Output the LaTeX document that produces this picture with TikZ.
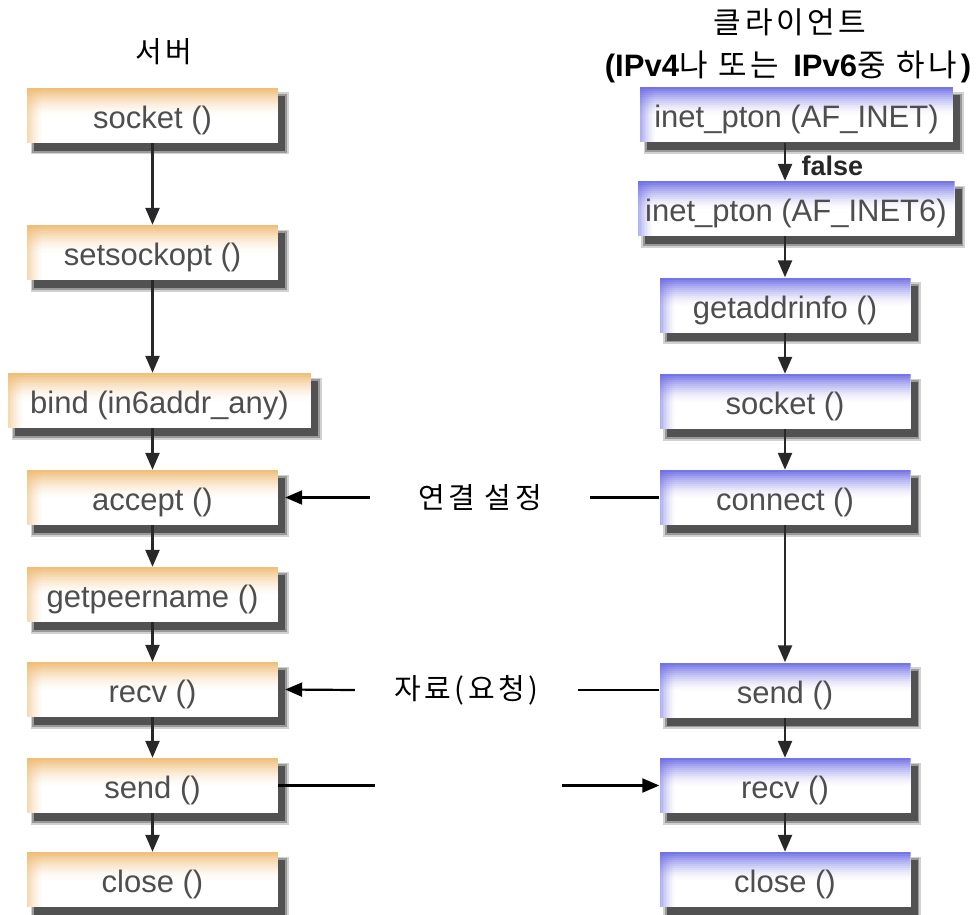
\documentclass[tikz,border=0pt]{standalone}
\usepackage{fontspec}
\setmainfont{Liberation Sans}
\newfontfamily\kr[LetterSpace=12]{Noto Sans CJK KR}
\usetikzlibrary{arrows.meta,shadows}

\definecolor{bandO}{RGB}{240,188,116}
\definecolor{bandB}{RGB}{110,110,230}
\definecolor{boxtext}{RGB}{78,78,78}
\definecolor{linegrey}{RGB}{40,40,40}

\tikzset{
  fbox/.style={
    rectangle, minimum width=251pt, minimum height=55pt, inner sep=0pt,
    text height=31pt, text depth=5pt,
    fill=white, text=boxtext, font=\fontsize{31}{31}\selectfont,
    % soft drop shadow built from stacked layers
    general shadow={fill=black!18, draw=black!18, line width=7pt,
                    shadow xshift=7pt, shadow yshift=-8pt},
    general shadow={fill=black!45, draw=black!40, line width=3.5pt,
                    shadow xshift=7pt, shadow yshift=-8pt},
    general shadow={fill=black!68, shadow xshift=7pt, shadow yshift=-8pt},
    path picture={
      % colour band fading down from the top edge
      \foreach \i in {0,...,13}{
        \pgfmathsetmacro\op{0.95*(1-\i/14)^1.6}
        \fill[#1, fill opacity=\op]
          ([yshift=-2*\i pt]path picture bounding box.north west) rectangle
          ([yshift=-2*\i pt-2pt]path picture bounding box.north east);
      }
      % lighter band fading in from the left edge
      \foreach \i in {0,...,9}{
        \pgfmathsetmacro\op{0.55*(1-\i/10)^1.4}
        \fill[#1, fill opacity=\op]
          ([xshift=1.5*\i pt]path picture bounding box.north west) rectangle
          ([xshift=1.5*\i pt+1.5pt]path picture bounding box.south west);
      }
    }},
  sbox/.style={fbox=bandO},
  cbox/.style={fbox=bandB},
  arr/.style={draw=linegrey, line width=2.4pt, -{Triangle[length=17pt,width=14pt]}},
  link/.style={draw=black, line width=2.2pt},
  linkarr/.style={draw=black, line width=2.2pt, -{Triangle[length=17pt,width=14pt]}},
  hdr/.style={font=\kr\fontsize{29}{29}\selectfont, text=black},
  gap/.style={font=\kr\fontsize{29}{29}\selectfont, text=black, inner sep=0pt, minimum height=30pt},
}

\begin{document}
\begin{tikzpicture}[x=1pt, y=-1pt]
  \fill[white] (0,0) rectangle (977,915);
  \useasboundingbox (0,0) rectangle (977,915);

  % column headings
  \node[hdr] (tsrv) at (164,52) {서버};
  \node[hdr, font=\kr\fontsize{30}{30}\selectfont] (tcli) at (790,22) {클라이언트};
  \node[font=\fontsize{31}{31}\selectfont, text=black] (tsub) at (788,67)
    {\textbf{(IPv4}{\kr 나 또는 }\textbf{IPv6}{\kr 중 하나}\textbf{)}};

  % server calls
  \node[sbox] (ssock) at (152.5,115.5) {socket ()};
  \node[sbox] (sopt) at (152.5,252.5) {setsockopt ()};
  \node[sbox, minimum width=303pt] (sbind) at (159.5,400.5) {bind (in6addr\_any)};
  \node[sbox] (sacc) at (152.5,497.5) {accept ()};
  \node[sbox] (speer) at (152.5,594.5) {getpeername ()};
  \node[sbox] (srecv) at (152.5,689.5) {recv ()};
  \node[sbox] (ssend) at (152.5,785.5) {send ()};
  \node[sbox] (sclose) at (152.5,879.5) {close ()};

  % client calls
  \node[cbox, minimum width=313pt] (cip4) at (796.5,115) {inet\_pton (AF\_INET)};
  \node[cbox, minimum width=317pt] (cip6) at (796,208.5) {inet\_pton (AF\_INET6)};
  \node[cbox] (cgai) at (785,305) {getaddrinfo ()};
  \node[cbox] (csock) at (785,401.5) {socket ()};
  \node[cbox] (cconn) at (785,497.5) {connect ()};
  \node[cbox] (csend) at (785,690) {send ()};
  \node[cbox] (crecv) at (785,785.5) {recv ()};
  \node[cbox] (cclose) at (785,879.5) {close ()};

  % server flow
  \draw[arr] (ssock.south) -- (sopt.north);
  \draw[arr] (sopt.south) -- (sbind.north -| sopt.south);
  \draw[arr] (sbind.south -| sopt.south) -- (sacc.north);
  \draw[arr] (sacc.south) -- (speer.north);
  \draw[arr] (speer.south) -- (srecv.north);
  \draw[arr] (srecv.south) -- (ssend.north);
  \draw[arr] (ssend.south) -- (sclose.north);

  % client flow
  \draw[arr] (cip4.south -| cgai.south) -- (cip6.north -| cgai.north)
    node[pos=0.62, right=12pt, font=\bfseries\fontsize{27}{27}\selectfont, text=linegrey] (lfalse) {false};
  \draw[arr] (cip6.south -| cgai.south) -- (cgai.north);
  \draw[arr] (cgai.south) -- (csock.north);
  \draw[arr] (csock.south) -- (cconn.north);
  \draw[arr] (cconn.south) -- (csend.north);
  \draw[arr] (csend.south) -- (crecv.north);
  \draw[arr] (crecv.south) -- (cclose.north);

  % exchanges between the two sides
  \node[gap, minimum width=220pt] (lconn) at (480,497.5) {연결 설정};
  \node[gap, minimum width=223pt] (ldata) at (466.5,690) {자료(요청)};
  \coordinate (g1) at (375,785.5);
  \coordinate (g2) at (562,785.5);

  \draw[link] (cconn.west) -- (lconn.east);
  \draw[linkarr] (lconn.west) -- ([xshift=7pt]sacc.east);
  \draw[link] (csend.west) -- (ldata.east);
  \draw[linkarr] (ldata.west) -- ([xshift=7pt]srecv.east);
  \draw[link] (ssend.east) -- (g1);
  \draw[linkarr] (g2) -- (crecv.west);
\end{tikzpicture}
\end{document}
